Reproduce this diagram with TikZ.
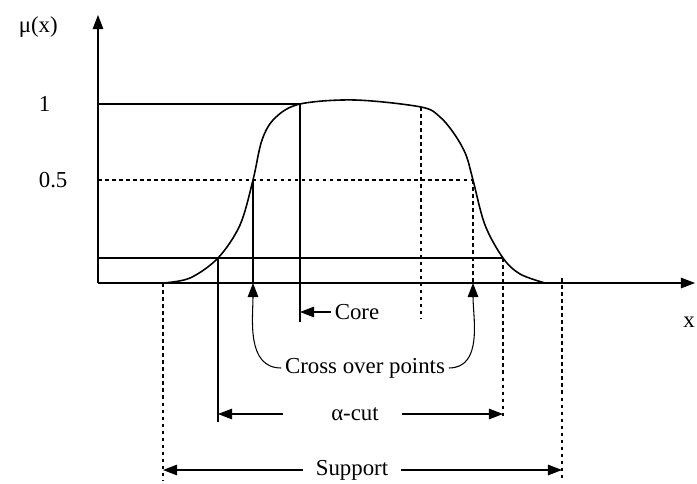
\documentclass[tikz,border=0pt]{standalone}
\usepackage{fontspec}
\setmainfont{Liberation Serif}
\usetikzlibrary{arrows.meta,positioning}
\tikzset{
  axis/.style={-{Triangle[length=8pt,width=6pt]},line width=.6pt},
  guide/.style={line width=.6pt},
  dashguide/.style={line width=.6pt,dash pattern=on 2pt off 2pt},
  membership/.style={line width=.9pt},
  pointer/.style={-{Triangle[length=8pt,width=6pt]},line width=.6pt},
  lbl/.style={font=\fontsize{13}{15}\selectfont,inner sep=2pt},
}

\begin{document}
\begin{tikzpicture}
    \useasboundingbox (-1.96,-4.0) rectangle (11.98,5.66);
    % axes
    \coordinate (o) at (0,0);
    \draw[axis] (o)--(0,5.36);
    \draw[axis] (o)--(11.94,0);
    \node[lbl,anchor=west] (mu) at (-1.66,5.12) {μ(x)};
    \node[lbl,anchor=east,inner sep=1pt] (xl) at (11.98,-0.78) {x};
    \node[lbl,anchor=west] (one) at (-1.26,3.58) {1};
    \node[lbl,anchor=west] (half) at (-1.26,2.06) {0.5};
    % points on the curve
    \coordinate (s1) at (1.30,0);    \coordinate (s2) at (9.28,0.1);
    \coordinate (a1) at (2.40,0.5);  \coordinate (a2) at (8.10,0.5);
    \coordinate (c1) at (3.10,2.06); \coordinate (c2) at (7.50,2.06);
    \coordinate (k1) at (4.04,3.58); \coordinate (k2) at (6.46,3.52);
    % membership function
    \draw[membership] plot[smooth,tension=0.55] coordinates {(1.30,0) (1.84,0.1) (2.40,0.5) (2.84,1.16) (3.10,2.06)
      (3.28,2.86) (3.54,3.30) (4.04,3.58) (5.14,3.66) (6.46,3.52) (6.84,3.32) (7.14,2.96) (7.36,2.56) (7.50,2.06)
      (7.74,1.16) (8.10,0.5) (8.44,0.18) (8.94,0)};
    \draw[guide] (0,3.58)--(k1);
    \draw[dashguide] (0,2.06)--(c2);
    \draw[guide] (0,0.5)--(a2);
    % core
    \node[lbl] (core) at (5.18,-0.58) {Core};
    \draw[guide] (k1)--(4.04,-0.78);
    \draw[dashguide] (k2)--(6.46,-0.70);
    \draw[pointer] (core.west)--(core.west -| k1);
    % cross over points
    \node[lbl] (cross) at (5.34,-1.70) {Cross over points};
    \draw[guide] (c1)--(c1 |- o);
    \draw[dashguide] (c2)--(c2 |- o);
    \draw[pointer] (cross.west) to[out=180,in=-90] (c1 |- o);
    \draw[pointer] (cross.east) to[out=0,in=-90] (c2 |- o);
    % alpha-cut
    \node[lbl,inner xsep=0.45cm] (acut) at (5.14,-2.62) {α-cut};
    \draw[guide] (a1)--(2.40,-2.78);
    \draw[dashguide] (a2)--(8.10,-2.70);
    \draw[pointer] ([xshift=-0.5cm]acut.west)--(acut.west -| a1);
    \draw[pointer] (acut.east)--(acut.east -| a2);
    % support
    \node[lbl,inner xsep=0.25cm] (supp) at (5.08,-3.74) {Support};
    \draw[dashguide] (s1)--(1.30,-3.94);
    \draw[dashguide] (s2)--(9.28,-3.94);
    \draw[pointer] (supp.west)--(supp.west -| s1);
    \draw[pointer] (supp.east)--(supp.east -| s2);
  \end{tikzpicture}
\end{document}
